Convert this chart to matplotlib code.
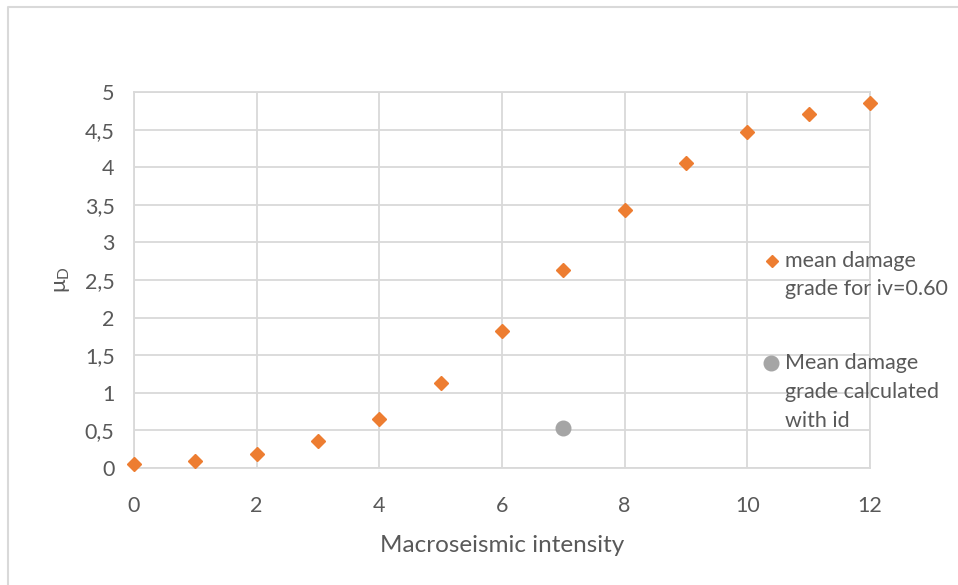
import matplotlib
matplotlib.use("Agg")
import matplotlib.pyplot as plt
from matplotlib.lines import Line2D

plt.rcParams['font.family'] = ['Lato', 'DejaVu Sans']

# Données
intensity = [0, 1, 2, 3, 4, 5, 6, 7, 8, 9, 10, 11, 12]
mu_d = [0.05, 0.09, 0.19, 0.36, 0.65, 1.13, 1.82, 2.63, 3.43, 4.05, 4.47, 4.71, 4.85]
id_x = [7]
id_mu = [0.53]

xticks = [0, 2, 4, 6, 8, 10, 12]
yticks = [0, 0.5, 1, 1.5, 2, 2.5, 3, 3.5, 4, 4.5, 5]
ylabels = ["0", "0,5", "1", "1,5", "2", "2,5", "3", "3,5", "4", "4,5", "5"]

orange = "#ED7D31"
gris = "#A5A5A5"
texte = "#595959"
grille = "#D9D9D9"

fig = plt.figure(figsize=(9.58, 5.85), dpi=100)
ax = fig.add_axes([134 / 958, 1 - 468 / 585, (870 - 134) / 958, (468 - 92) / 585])

ax.plot(intensity, mu_d, linestyle="none", marker="D", markersize=7.5,
        color=orange, clip_on=False, zorder=3)
ax.plot(id_x, id_mu, linestyle="none", marker="o", markersize=10.5,
        color=gris, clip_on=False, zorder=3)

ax.set_xlim(0, 12)
ax.set_ylim(0, 5)
ax.set_xticks(xticks)
ax.set_yticks(yticks)
ax.set_yticklabels(ylabels)
ax.tick_params(length=0, labelsize=15.5, colors=texte, pad=14)
ax.tick_params(axis="x", pad=20)
ax.grid(True, color=grille, linewidth=1.3)
ax.set_axisbelow(True)
for s in ax.spines.values():
    s.set_color(grille)
    s.set_linewidth(1.3)

ax.set_xlabel("Macroseismic intensity", fontsize=17.5, color=texte, labelpad=14)
fig.text(62 / 958, 1 - 280 / 585, r"$\mathregular{\mu_D}$", rotation=90,
         fontsize=16, color=texte, ha="center", va="center")

# Légende dessinée à la main
fs = 15.5
fig.add_artist(Line2D([772 / 958], [1 - 261 / 585], marker="D", markersize=6.5,
                      color=orange, linestyle="none", transform=fig.transFigure))
fig.text(785 / 958, 1 - 261 / 585, "mean damage", fontsize=fs, color=texte, va="center")
fig.text(785 / 958, 1 - 289 / 585, "grade for iv=0.60", fontsize=fs, color=texte, va="center")
fig.add_artist(Line2D([771 / 958], [1 - 363 / 585], marker="o", markersize=10.5,
                      color=gris, linestyle="none", transform=fig.transFigure))
fig.text(785 / 958, 1 - 363 / 585, "Mean damage", fontsize=fs, color=texte, va="center")
fig.text(785 / 958, 1 - 392 / 585, "grade calculated", fontsize=fs, color=texte, va="center")
fig.text(785 / 958, 1 - 421 / 585, "with id", fontsize=fs, color=texte, va="center")

# Cadre du graphique
fig.add_artist(Line2D([8 / 958, 8 / 958, 1], [0, 1 - 7 / 585, 1 - 7 / 585],
                      color="#D9D9D9", linewidth=1.5, transform=fig.transFigure))

fig.savefig("out.png", dpi=100)
